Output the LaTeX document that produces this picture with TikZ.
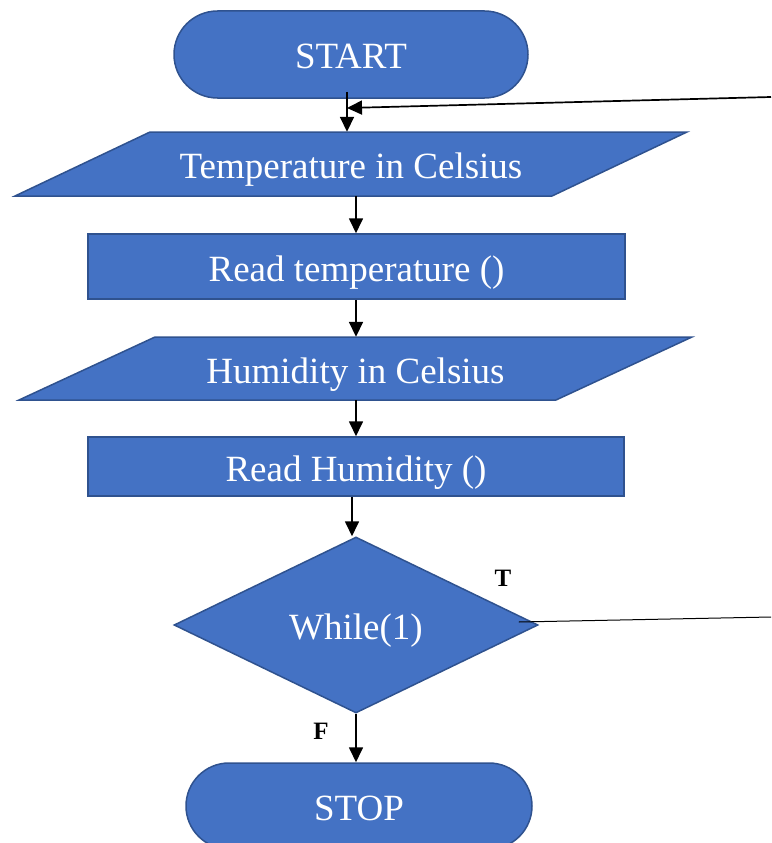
\documentclass[tikz,border=0pt]{standalone}
\usepackage{fontspec}
\setmainfont{Liberation Serif}
\usetikzlibrary{shapes.misc,shapes.geometric,arrows.meta,calc}
\definecolor{boxfill}{HTML}{4472C4}
\definecolor{boxline}{HTML}{2F528F}
\begin{document}
\begin{tikzpicture}[x=1pt,y=-1pt,
  labeltext/.style={text=white,font=\fontsize{37}{40}\selectfont,
    text height=33pt,text depth=4pt},
  shapebase/.style={labeltext,fill=boxfill,draw=boxline,line width=1.5pt,inner sep=0pt},
  terminal/.style={shapebase,rounded rectangle},
  process/.style={shapebase,rectangle},
  decision/.style={shapebase,diamond},
  iolabel/.style={labeltext,inner sep=0pt,minimum height=64pt},
  iobox/.style={fill=boxfill,draw=boxline,line width=1.5pt,line join=miter},
  flow/.style={line width=1.7pt,-{Triangle[length=15pt,width=14pt]}},
  branch/.style={font=\bfseries\fontsize{25}{28}\selectfont,inner sep=0pt},
]
\clip (0,0) rectangle (771,843);

% terminals and processes
\node[terminal,minimum width=354pt,minimum height=87pt] (start) at (351,54.5) {START};
\node[process,minimum width=537pt,minimum height=65pt] (rdtemp) at (356.5,266.5) {Read temperature ()};
\node[process,minimum width=536pt,minimum height=59pt] (rdhum) at (356,466.5) {Read Humidity ()};
\node[decision,minimum width=364pt,minimum height=176pt] (cond) at (356,625) {While(1)};
\node[terminal,minimum width=346pt,minimum height=86pt] (stop) at (359,806) {STOP};

% input/output parallelograms
\draw[iobox] (150,132) -- (687,132) -- (552,196) -- (15,196) -- cycle;
\node[iolabel] (tempin) at (351,164) {Temperature in Celsius};
\draw[iobox] (155,337) -- (692,337) -- (556,400) -- (19,400) -- cycle;
\node[iolabel,minimum height=63pt] (humin) at (355.5,368.5) {Humidity in Celsius};

% reference points for the connectors
\coordinate (spine) at (356,0);
\coordinate (entry) at (347,108);
\coordinate (loopin) at (771,97);
\coordinate (loopout) at (771,617);

% main flow
\draw[flow] ($(start.south -| entry)+(0,-7)$) -- (tempin.north -| entry);
\draw[flow] (tempin.south -| spine) -- (rdtemp.north -| spine);
\draw[flow] (rdtemp.south -| spine) -- (humin.north -| spine);
\draw[flow] (humin.south -| spine) -- (rdhum.north -| spine);
\draw[flow] ([xshift=-4pt]rdhum.south) -- ([xshift=-4pt]cond.north);
\draw[flow] (cond.south) -- (stop.north -| spine);

% loop back to the top
\draw[line width=1pt] ($(cond.east)+(-20,-3)$) -- (loopout);
\draw[flow] (loopin) -- (entry);

% branch labels
\node[branch] (tlab) at (503,578) {T};
\node[branch] (flab) at (321,731) {F};
\end{tikzpicture}
\end{document}
